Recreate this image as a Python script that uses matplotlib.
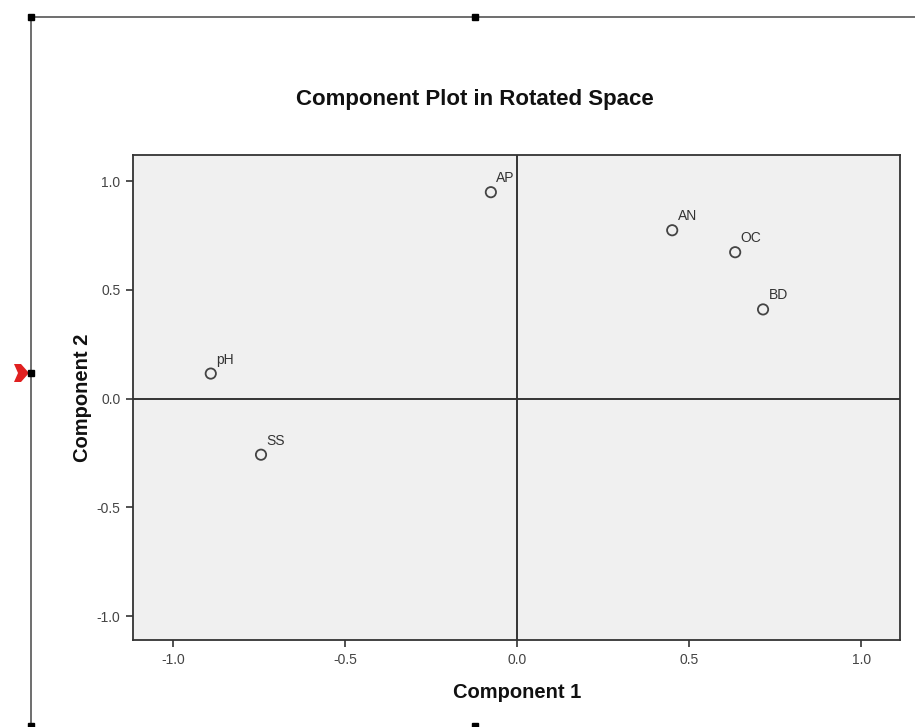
import matplotlib
matplotlib.use("Agg")
import matplotlib.pyplot as plt
from matplotlib.lines import Line2D
from matplotlib.patches import Polygon

plt.rcParams['font.family'] = ['Liberation Sans', 'DejaVu Sans']

labels = ["AP", "AN", "OC", "BD", "pH", "SS"]
comp1 = [-0.076, 0.451, 0.634, 0.715, -0.890, -0.744]
comp2 = [0.949, 0.774, 0.673, 0.410, 0.115, -0.258]
ticks = [-1.0, -0.5, 0.0, 0.5, 1.0]
tick_labels = ["-1.0", "-0.5", "0.0", "0.5", "1.0"]

W, H = 915, 727
fig = plt.figure(figsize=(W / 100, H / 100), dpi=100)
fig.patch.set_facecolor("white")

ax = fig.add_axes([133 / W, (H - 640) / H, (900 - 133) / W, (640 - 155) / H])
ax.set_facecolor("#F0F0F0")
ax.set_xlim(-1.116, 1.113)
ax.set_ylim(-1.11, 1.12)

ax.axhline(0, color="#333333", lw=1.4, zorder=1)
ax.axvline(0, color="#333333", lw=1.4, zorder=1)

ax.scatter(comp1, comp2, s=55, facecolors="none", edgecolors="#444444",
           linewidths=1.3, zorder=3)
for lab, x, y in zip(labels, comp1, comp2):
    ax.annotate(lab, (x, y), xytext=(4, 5), textcoords="offset points",
                fontsize=10, color="#333333", ha="left", va="bottom")

ax.set_xticks(ticks)
ax.set_xticklabels(tick_labels)
ax.set_yticks(ticks)
ax.set_yticklabels(tick_labels)
ax.tick_params(direction="out", length=5, width=1.2, color="#333333",
               labelsize=10, labelcolor="#444444", pad=4)
for sp in ax.spines.values():
    sp.set_color("#333333")
    sp.set_linewidth(1.3)

fig.text(475 / W, 1 - 100 / H, "Component Plot in Rotated Space",
         ha="center", va="center", fontsize=16, fontweight="bold", color="#111111")
fig.text(517 / W, 1 - 693 / H, "Component 1", ha="center", va="center",
         fontsize=14.5, fontweight="bold", color="#111111")
fig.text(82 / W, 1 - 398 / H, "Component 2", ha="center", va="center",
         rotation=90, fontsize=14.5, fontweight="bold", color="#111111")

# decorative selection frame
def fx(px):
    return px / W

def fy(py):
    return 1 - py / H

fig.add_artist(Line2D([fx(31), fx(915)], [fy(17), fy(17)], color="#555555", lw=1.2))
fig.add_artist(Line2D([fx(31), fx(31)], [fy(17), fy(727)], color="#555555", lw=1.2))
for hx, hy in [(31, 17), (475, 17), (31, 373), (31, 726), (475, 726)]:
    fig.add_artist(Line2D([fx(hx)], [fy(hy)], marker="s", markersize=5,
                          color="black", linestyle="none"))
fig.add_artist(Polygon([[fx(14), fy(364)], [fx(21), fy(364)], [fx(29), fy(373)],
                        [fx(21), fy(382)], [fx(14), fy(382)], [fx(18), fy(373)]],
                       closed=True, facecolor="#E02020", edgecolor="none",
                       transform=fig.transFigure))

fig.savefig("out.png", dpi=100)
